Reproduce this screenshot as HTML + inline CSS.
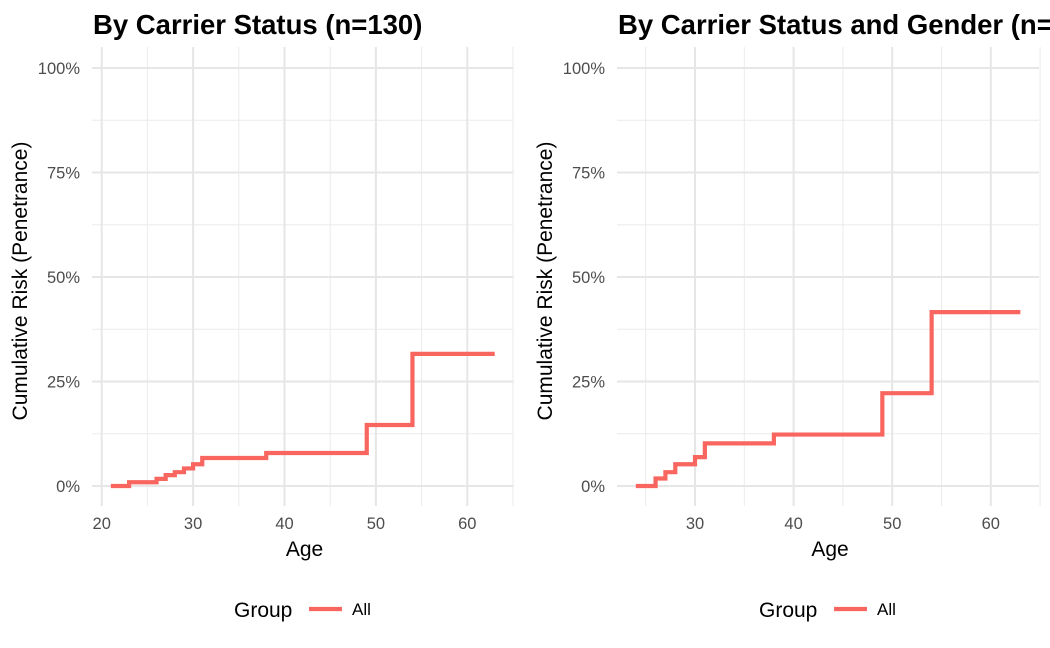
<!DOCTYPE html>
<html><head><meta charset="utf-8"><style>
html,body{margin:0;padding:0;background:#fff;width:1050px;height:648px;overflow:hidden}
svg{display:block;font-family:"Liberation Sans",sans-serif}
</style></head><body>
<svg id="chart" width="1050" height="648"></svg>
<script>
const leftAges = [21, 23, 26, 27, 28, 29, 30, 31, 38, 49, 54, 63];
const leftRisk = [0, 0.9, 1.7, 2.6, 3.3, 4.2, 5.2, 6.7, 7.9, 14.6, 31.6, 31.6];
const rightAges = [24, 26, 27, 28, 30, 31, 38, 49, 54, 63];
const rightRisk = [0, 1.8, 3.3, 5.2, 6.9, 10.2, 12.3, 22.2, 41.6, 41.6];
const yTicks = [0, 25, 50, 75, 100];
const yTickLabels = ["0%", "25%", "50%", "75%", "100%"];
const leftXTicks = [20, 30, 40, 50, 60];
const rightXTicks = [30, 40, 50, 60];

const NS = "http://www.w3.org/2000/svg";
const svg = document.getElementById("chart");
function el(tag, attrs, parent) {
  const e = document.createElementNS(NS, tag);
  for (const k in attrs) e.setAttribute(k, attrs[k]);
  (parent || svg).appendChild(e);
  return e;
}
const yScale = v => 486 - v * 4.18;

function panel(opts) {
  const g = el("g", {});
  
  
  const x = a => opts.x0 + (a - opts.a0) * opts.k;
  for (let v = 12.5; v < 100; v += 25) {
    const l = el("line", {x1: opts.left, x2: opts.right, y1: yScale(v), y2: yScale(v), stroke: "#ebebeb", "stroke-width": 1}, g);
    
    
  }
  for (let a = opts.minA; a <= 65; a += 5) {
    if (a % 10 === 0) continue;
    const l = el("line", {x1: x(a), x2: x(a), y1: 47, y2: 506, stroke: "#ebebeb", "stroke-width": 1}, g);
    
    
  }
  yTicks.forEach((v, i) => {
    const l = el("line", {x1: opts.left, x2: opts.right, y1: yScale(v), y2: yScale(v), stroke: "#e6e6e6", "stroke-width": 2}, g);
    
    
    const t = el("text", {x: opts.left - 12, y: yScale(v) + 6, "text-anchor": "end", "font-size": 16.5, fill: "#4d4d4d"}, g);
    t.textContent = yTickLabels[i];
    
    
  });
  opts.ticks.forEach(a => {
    const l = el("line", {x1: x(a), x2: x(a), y1: 47, y2: 506, stroke: "#e6e6e6", "stroke-width": 2}, g);
    
    
    const t = el("text", {x: x(a), y: 529, "text-anchor": "middle", "font-size": 16.5, fill: "#4d4d4d"}, g);
    t.textContent = a;
    
    
  });
  let d = "";
  opts.ages.forEach((a, i) => {
    if (i === 0) d += "M" + x(a) + "," + yScale(opts.risk[0]);
    else d += "H" + x(a) + "V" + yScale(opts.risk[i]);
  });
  const p = el("path", {d: d, fill: "none", stroke: "#F8665F", "stroke-width": 4.2, "stroke-linejoin": "miter"}, g);
  
  
  const title = el("text", {x: opts.left + 1, y: 34, "font-size": 27.5, "font-weight": "bold", fill: "#000"}, g);
  title.textContent = opts.title;
  
  
  const yt = el("text", {x: 0, y: 0, transform: "translate(" + (opts.left - 65) + ",281) rotate(-90)", "text-anchor": "middle", "font-size": 21, fill: "#000"}, g);
  yt.textContent = "Cumulative Risk (Penetrance)";
  
  
  const xt = el("text", {x: (opts.left + opts.right) / 2 + 2, y: 556, "text-anchor": "middle", "font-size": 21, fill: "#000"}, g);
  xt.textContent = "Age";
  
  
  const lg = el("g", {}, g);
  
  
  const lt = el("text", {x: opts.legX, y: 617, "font-size": 21, fill: "#000"}, lg);
  lt.textContent = "Group";
  
  
  const ll = el("line", {x1: opts.legX + 75, x2: opts.legX + 108, y1: 609, y2: 609, stroke: "#F8665F", "stroke-width": 4.2}, lg);
  
  
  const la = el("text", {x: opts.legX + 118, y: 615, "font-size": 17, fill: "#000"}, lg);
  la.textContent = "All";
  
  
}

panel({name: "panel-carrier-status", left: 92, right: 513, x0: 101.7, a0: 20, k: 9.14, minA: 20,
  ticks: leftXTicks, ages: leftAges, risk: leftRisk, title: "By Carrier Status (n=130)", legX: 234});
panel({name: "panel-carrier-gender", left: 617, right: 1039, x0: 695, a0: 30, k: 9.86, minA: 25,
  ticks: rightXTicks, ages: rightAges, risk: rightRisk, title: "By Carrier Status and Gender (n=130)", legX: 759});
</script>
</body></html>
